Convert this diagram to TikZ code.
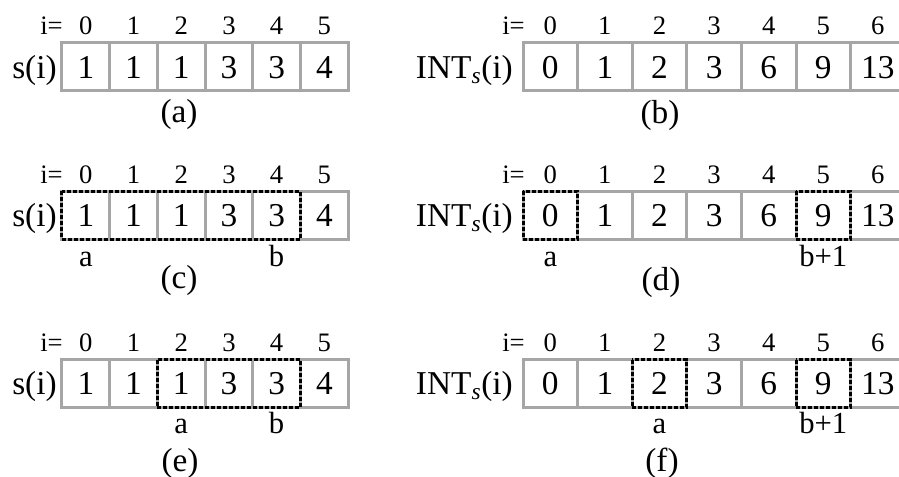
\documentclass[tikz,border=0pt]{standalone}
\usepackage{fontspec}
\setmainfont{Liberation Serif}
\usetikzlibrary{positioning, calc}

\tikzset{
    cell/.style={draw=gray!70, line width=2.25pt, minimum width=35.8pt, minimum height=36pt, inner sep=0pt, outer sep=0pt, text height=17pt, text depth=0pt, font=\fontsize{25}{28}\selectfont},
    widecell/.style={cell, minimum width=40.95pt},
    marked/.style={draw=black, line width=2.25pt, dash pattern=on 3pt off 1.5pt},
    idx/.style={inner sep=0pt, font=\fontsize{20}{24}\selectfont},
    ends/.style={inner sep=0pt, font=\fontsize{23}{26}\selectfont},
    rowlabel/.style={inner sep=0pt, font=\fontsize{25}{28}\selectfont},
    caption/.style={inner sep=0pt, font=\fontsize{25}{28}\selectfont}
}

\begin{document}
\begin{tikzpicture}[x=0.75pt, y=-0.75pt]
        \useasboundingbox (0,0) rectangle (899,477);
        \clip (0,0) rectangle (899,477);

        % Left arrays s(i)
        \foreach \p/\y in {a/67, c/215.5, e/383.5} {
            \foreach \v [count=\k from 0] in {1,1,1,3,3,4}
                \node[cell] (\p\k) at (85.85+47.7*\k, \y) {\v};
            \foreach \k in {0,...,5}
                \node[idx, anchor=base] (\p i\k) at ($(\p\k.north)+(0,-8)$) {\k}; % index above cell
            \node[idx, anchor=base east] (\p eq) at ($(\p0.north west)+(1,-8)$) {i=};
            \node[rowlabel, anchor=base east] (\p lab) at ($(\p0.base west)+(-5,0)$) {s(i)};
        }

        % Right arrays INT_s(i)
        \foreach \p/\y in {b/67, d/215.5, f/383.5} {
            \foreach \v [count=\k from 0] in {0,1,2,3,6,9,13}
                \node[widecell] (\p\k) at (550.3+54.6*\k, \y) {\v};
            \foreach \k in {0,...,6}
                \node[idx, anchor=base] (\p i\k) at ($(\p\k.north)+(0,-8)$) {\k}; % index above cell
            \node[idx, anchor=base east] (\p eq) at ($(\p0.north west)+(2,-8)$) {i=};
            \node[rowlabel, anchor=base east] (\p lab) at ($(\p0.base west)+(-10,0)$) {INT\textsubscript{\textit{s}}(i)};
        }

        % Dashed ranges
        \draw[marked] (c0.north west) rectangle (c4.south east);
        \draw[marked] (d0.north west) rectangle (d0.south east);
        \draw[marked] (d5.north west) rectangle (d5.south east);
        \draw[marked] (e2.north west) rectangle (e4.south east);
        \draw[marked] (f2.north west) rectangle (f2.south east);
        \draw[marked] (f5.north west) rectangle (f5.south east);

        % Range ends
        \node[ends, anchor=base] (ca) at ($(c0.south)+(0,27)$) {a};
        \node[ends, anchor=base] (cb) at ($(c4.south)+(0,27)$) {b};
        \node[ends, anchor=base] (da) at ($(d0.south)+(0,27)$) {a};
        \node[ends, anchor=base] (db) at ($(d5.south)+(0,27)$) {b+1};
        \node[ends, anchor=base] (ea) at ($(e2.south)+(0,26)$) {a};
        \node[ends, anchor=base] (eb) at ($(e4.south)+(0,26)$) {b};
        \node[ends, anchor=base] (fa) at ($(f2.south)+(0,26)$) {a};
        \node[ends, anchor=base] (fb) at ($(f5.south)+(0,26)$) {b+1};

        % Captions
        \node[caption] (capa) at (179,114) {(a)};
        \node[caption] (capb) at (660,115) {(b)};
        \node[caption] (capc) at (179,280) {(c)};
        \node[caption] (capd) at (661,282) {(d)};
        \node[caption] (cape) at (180,463) {(e)};
        \node[caption] (capf) at (662,463) {(f)};
\end{tikzpicture}
\end{document}
